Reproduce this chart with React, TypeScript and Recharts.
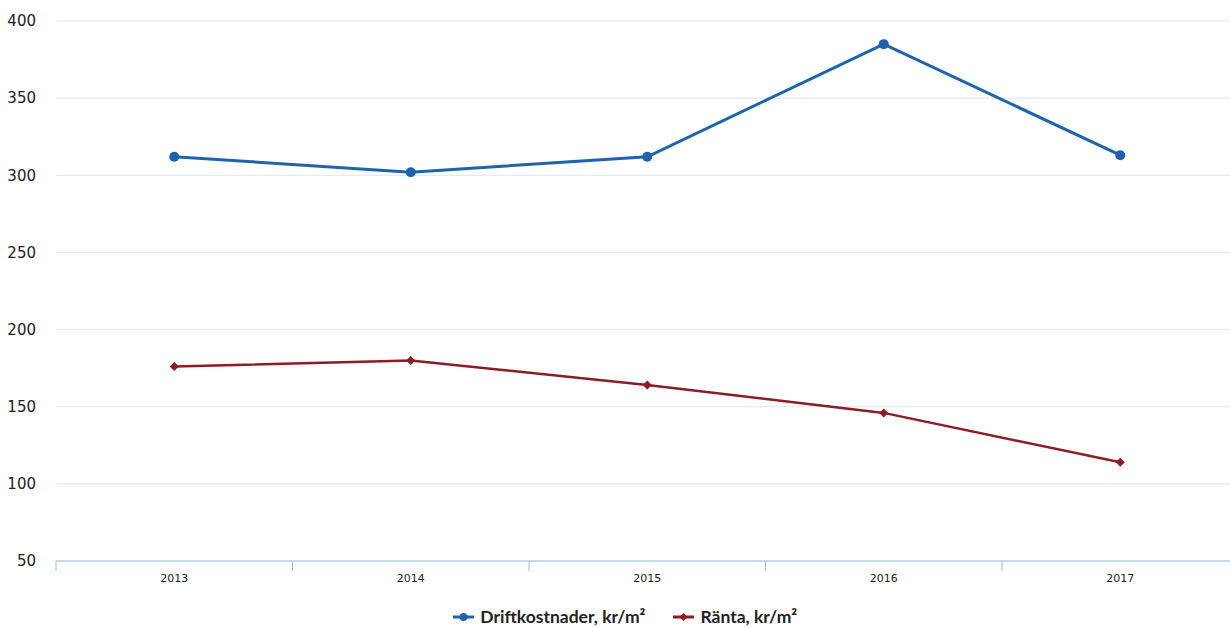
import React from 'react';
import {
  LineChart,
  Line,
  XAxis,
  YAxis,
  CartesianGrid,
  Legend,
} from 'recharts';

const years = ['2013', '2014', '2015', '2016', '2017'];
const driftkostnader = [312, 302, 312, 385, 313];
const ranta = [176, 180, 164, 146, 114];
const yTicks = [50, 100, 150, 200, 250, 300, 350, 400];

const BLUE = '#1f62ad';
const RED = '#8c1c26';

const data = years.map((year, i) => ({
  year,
  drift: driftkostnader[i],
  ranta: ranta[i],
}));

// category tick: label under the band, tick marks on the band edges
const YearTick = (props: any) => {
  const { x, y, payload, index, visibleTicksCount } = props;
  const half = payload.offset ?? 0;
  return (
    <g>
      <line x1={x - half} x2={x - half} y1={y} y2={y + 10} stroke="#9fc0e6" />
      {index === visibleTicksCount - 1 && (
        <line x1={x + half} x2={x + half} y1={y} y2={y + 10} stroke="#9fc0e6" />
      )}
      <text
        x={x}
        y={y + 21}
        textAnchor="middle"
        fontSize={11}
        fontFamily="DejaVu Sans, Verdana, sans-serif"
        fill="#222"
      >
        {payload.value}
      </text>
    </g>
  );
};

const Diamond = (props: any) => {
  const { cx, cy, r = 4, fill } = props;
  if (cx == null || cy == null) return null;
  return (
    <path
      d={`M${cx},${cy - r} L${cx + r},${cy} L${cx},${cy + r} L${cx - r},${cy} Z`}
      fill={fill}
    />
  );
};

const legendItems = [
  { label: 'Driftkostnader, kr/m²', color: BLUE, shape: 'circle' },
  { label: 'Ränta, kr/m²', color: RED, shape: 'diamond' },
];

const LegendContent = () => (
  <div
    style={{
      display: 'flex',
      justifyContent: 'center',
      gap: 28,
      paddingTop: 15,
      paddingLeft: 12,
      fontFamily: 'Lato, "Open Sans", sans-serif',
      fontWeight: 700,
      fontSize: 17.5,
      color: '#222',
    }}
  >
    {legendItems.map((item) => (
      <span key={item.label} style={{ display: 'flex', alignItems: 'center', gap: 6 }}>
        <svg width={21} height={10}>
          <line x1={0} x2={21} y1={5} y2={5} stroke={item.color} strokeWidth={3} />
          {item.shape === 'circle' ? (
            <circle cx={10.5} cy={5} r={4} fill={item.color} />
          ) : (
            <Diamond cx={10.5} cy={5} r={4} fill={item.color} />
          )}
        </svg>
        {item.label}
      </span>
    ))}
  </div>
);

export default function App() {
  return (
    <div
      style={{
        position: 'absolute',
        left: 0,
        top: 0,
        width: 1230,
        height: 628,
        overflow: 'hidden',
        background: '#fff',
      }}
    >
      <LineChart
        width={1240}
        height={628}
        data={data}
        margin={{ top: 21, right: 1.5, bottom: 0, left: 0 }}
      >
        <CartesianGrid vertical={false} stroke="#dde4f0" />
        <XAxis
          dataKey="year"
          scale="band"
          axisLine={{ stroke: '#9fc0e6' }}
          tickLine={false}
          tickSize={0}
          tickMargin={0}
          height={30}
          tick={<YearTick />}
          interval={0}
        />
        <YAxis
          domain={[50, 400]}
          ticks={yTicks}
          width={56}
          axisLine={false}
          tickLine={false}
          tickMargin={14}
          tick={{
            fontSize: 15,
            fill: '#222',
            fontFamily: 'DejaVu Sans, Verdana, sans-serif',
          }}
        />
        <Legend
          verticalAlign="bottom"
          wrapperStyle={{ height: 37 }}
          content={<LegendContent />}
        />
        <Line
          dataKey="drift"
          name="Driftkostnader, kr/m²"
          type="linear"
          stroke={BLUE}
          strokeWidth={3}
          dot={{ r: 5, fill: BLUE, stroke: BLUE, strokeWidth: 0 }}
          activeDot={false}
          isAnimationActive={false}
        />
        <Line
          dataKey="ranta"
          name="Ränta, kr/m²"
          type="linear"
          stroke={RED}
          strokeWidth={2.5}
          dot={(p: any) => <Diamond key={p.index} cx={p.cx} cy={p.cy} r={4.5} fill={RED} />}
          activeDot={false}
          isAnimationActive={false}
        />
      </LineChart>
    </div>
  );
}
